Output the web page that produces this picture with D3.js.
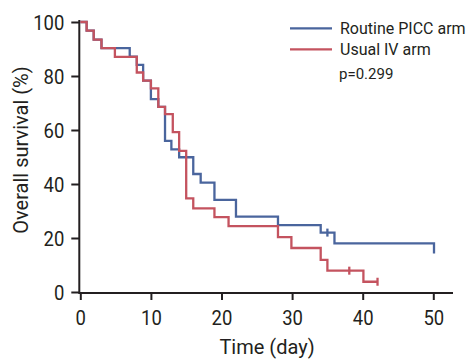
<!DOCTYPE html>
<html>
<head>
<meta charset="utf-8">
<script src="https://cdn.jsdelivr.net/npm/d3@7"></script>
<style>
  html, body { margin: 0; padding: 0; background: #fff; }
  #km { width: 468px; height: 362px; }
  text { font-family: Roboto, "Liberation Sans", sans-serif; fill: #231f20; }
</style>
</head>
<body>
<div id="km"></div>
<script>
// Routine PICC arm (blue)
const picTimes = [0, 0.9, 1.9, 3.0, 7.0, 8.0, 8.9, 10.0, 11.05, 12.0, 12.9, 14.0, 16.0, 17.05, 19.0, 22.05, 28.0, 34.05, 36.0, 50.1];
const picSurv = [100, 96.8, 93.5, 90.3, 87.2, 84.1, 78.3, 71.4, 68.6, 56.0, 52.8, 49.9, 43.7, 40.5, 34.1, 27.9, 24.8, 22.0, 18.0, 14.3];
const picCensor = [35.0];

// Usual IV arm (red)
const ivTimes = [0, 0.9, 1.9, 3.0, 4.9, 8.0, 8.9, 10.0, 11.05, 12.0, 13.1, 14.0, 15.0, 16.0, 19.0, 21.0, 28.0, 29.9, 34.05, 35.0, 40.1, 42.1];
const ivSurv = [100, 96.8, 93.5, 90.3, 87.1, 81.3, 78.3, 75.4, 68.6, 65.9, 59.2, 52.3, 34.7, 31.0, 27.7, 24.4, 20.3, 16.3, 11.9, 7.9, 3.8, 3.8];
const ivCensor = [38.1, 42.1];

const xTicks = [0, 10, 20, 30, 40, 50];
const yTicks = [0, 20, 40, 60, 80, 100];
const armNames = ["Routine PICC arm", "Usual IV arm"];
const pValue = "p=0.299";

(function() {
  const W = 468;
  const H = 362;
  const AXIS = "#231f20";
  const BLUE = "#4a659d";
  const RED = "#c4535f";

  const svg = d3.select("#km").append("svg")
    .attr("width", W)
    .attr("height", H);

  const x = d3.scaleLinear().domain([0, 50]).range([80.3, 433.3]);
  const y = d3.scaleLinear().domain([0, 100]).range([292, 22]);

  const arms = [
    { name: armNames[0], times: picTimes, surv: picSurv, censor: picCensor, color: BLUE },
    { name: armNames[1], times: ivTimes, surv: ivSurv, censor: ivCensor, color: RED }
  ];

  // survival at time t (step function)
  const survAt = (arm, t) => {
    let s = arm.surv[0];
    arm.times.forEach((tt, i) => { if (tt <= t) s = arm.surv[i]; });
    return s;
  };

  // axes
  const xAxis = svg.append("g")
    .attr("transform", `translate(0,293)`)
    .call(d3.axisBottom(x).tickValues(xTicks).tickSize(7).tickPadding(10).tickSizeOuter(0));
  xAxis.select(".domain").remove();
  xAxis.append("line")
    .attr("x1", x(0) - 1).attr("x2", 453)
    .attr("stroke", AXIS).attr("stroke-width", 2);
  xAxis.selectAll(".tick line").attr("stroke", AXIS).attr("stroke-width", 2);
  xAxis.selectAll(".tick text")
    .attr("fill", AXIS)
    .style("font-size", "21px")
    .attr("transform", "scale(0.88,1)");

  const yAxis = svg.append("g")
    .attr("transform", `translate(79.3,0)`)
    .call(d3.axisLeft(y).tickValues(yTicks).tickSize(8).tickPadding(7).tickSizeOuter(0));
  yAxis.select(".domain").remove();
  yAxis.append("line")
    .attr("y1", 20).attr("y2", 294)
    .attr("stroke", AXIS).attr("stroke-width", 2);
  yAxis.selectAll(".tick line").attr("stroke", AXIS).attr("stroke-width", 2);
  yAxis.selectAll(".tick text")
    .attr("fill", AXIS)
    .style("font-size", "21px")
    .attr("x", -15 / 0.88)
    .attr("dy", "0.34em")
    .attr("transform", "scale(0.88,1)");

  // titles
  svg.append("text")
    .attr("x", 267)
    .attr("y", 354)
    .attr("text-anchor", "middle")
    .style("font-size", "20px")
    .text("Time (day)");

  svg.append("text")
    .attr("transform", "translate(28,150) rotate(-90)")
    .attr("text-anchor", "middle")
    .style("font-size", "20px")
    .text("Overall survival (%)");

  // curves
  const line = d3.line()
    .x(d => x(d[0]))
    .y(d => y(d[1]))
    .curve(d3.curveStepAfter);

  arms.forEach(arm => {
    const pts = arm.times.map((t, i) => [t, arm.surv[i]]);
    svg.append("path")
      .datum(pts)
      .attr("d", line)
      .attr("fill", "none")
      .attr("stroke", arm.color)
      .attr("stroke-width", 2.3);

    svg.append("g")
      .selectAll("line")
      .data(arm.censor)
      .enter()
      .append("line")
      .attr("x1", d => x(d)).attr("x2", d => x(d))
      .attr("y1", d => y(survAt(arm, d)) - 4)
      .attr("y2", d => y(survAt(arm, d)) + 4)
      .attr("stroke", arm.color)
      .attr("stroke-width", 2.3);
  });

  // legend
  const legend = svg.append("g");
  const legendY = [28.3, 49.3];
  arms.forEach((arm, i) => {
    legend.append("line")
      .attr("x1", 290).attr("x2", 332)
      .attr("y1", legendY[i]).attr("y2", legendY[i])
      .attr("stroke", arm.color)
      .attr("stroke-width", 2.3);
    legend.append("text")
      .attr("x", 340)
      .attr("y", legendY[i])
      .attr("dy", "0.35em")
      .style("font-size", "16px")
      .text(arm.name);
  });

  legend.append("text")
    .attr("x", 339)
    .attr("y", 79)
    .style("font-size", "15px")
    .text(pValue);
})();
</script>
</body>
</html>
